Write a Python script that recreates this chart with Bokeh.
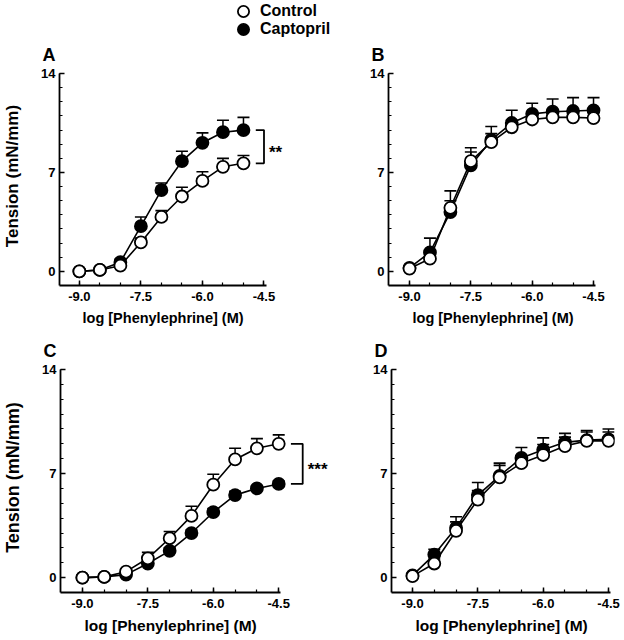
from bokeh.plotting import figure
from bokeh.layouts import column, row
from bokeh.models import FixedTicker, Label, Legend, LegendItem, Range1d, Title
from bokeh.embed import file_html
from bokeh.resources import INLINE

FONT = "Liberation Sans"

# ---------------- data ----------------
x_A = [-9.0, -8.5, -8.0, -7.5, -7.0, -6.5, -6.0, -5.5, -5.0]
x_full = [-9.0, -8.5, -8.0, -7.5, -7.0, -6.5, -6.0, -5.5, -5.0, -4.5]

ctrl_A = [0.0, 0.1, 0.4, 2.05, 3.85, 5.3, 6.4, 7.4, 7.65]
ctrl_A_err = [0.1, 0.1, 0.15, 0.3, 0.45, 0.65, 0.65, 0.6, 0.55]
capto_A = [0.0, 0.1, 0.65, 3.2, 5.75, 7.8, 9.1, 9.85, 10.0]
capto_A_err = [0.1, 0.1, 0.2, 0.65, 0.5, 0.7, 0.7, 0.85, 0.9]

ctrl_B = [0.2, 0.9, 4.5, 7.8, 9.15, 10.2, 10.75, 10.9, 10.9, 10.85]
ctrl_B_err = [0.1, 0.4, 1.2, 0.95, 0.6, 0.5, 0.4, 0.4, 0.4, 0.4]
capto_B = [0.25, 1.35, 4.2, 7.5, 9.3, 10.5, 11.15, 11.3, 11.35, 11.4]
capto_B_err = [0.1, 1.0, 0.8, 0.95, 0.95, 0.9, 0.75, 0.9, 0.95, 0.9]

ctrl_C = [0.0, 0.05, 0.4, 1.3, 2.65, 4.15, 6.25, 7.95, 8.7, 9.0]
ctrl_C_err = [0.1, 0.1, 0.15, 0.4, 0.45, 0.65, 0.7, 0.75, 0.65, 0.6]
capto_C = [0.0, 0.05, 0.2, 0.95, 1.8, 3.0, 4.4, 5.55, 6.0, 6.3]
capto_C_err = [0.1, 0.1, 0.1, 0.15, 0.2, 0.2, 0.25, 0.25, 0.2, 0.2]

ctrl_D = [0.1, 0.95, 3.15, 5.25, 6.75, 7.7, 8.25, 8.85, 9.2, 9.2]
ctrl_D_err = [0.1, 0.3, 0.6, 0.6, 0.8, 0.5, 0.7, 0.6, 0.6, 0.6]
capto_D = [0.15, 1.55, 3.35, 5.55, 6.85, 8.05, 8.6, 9.1, 9.25, 9.3]
capto_D_err = [0.1, 0.35, 0.75, 0.85, 0.85, 0.7, 0.8, 0.6, 0.65, 0.7]

x_ticks = [-9.0, -7.5, -6.0, -4.5]
x_tick_labels = ["-9.0", "-7.5", "-6.0", "-4.5"]
x_minor = [-9.0, -8.5, -8.0, -7.5, -7.0, -6.5, -6.0, -5.5, -5.0, -4.5]
y_ticks = [0, 7, 14]
y_tick_labels = ["0", "7", "14"]
y_minor = list(range(0, 15))

series_names = ["Control", "Captopril"]
x_title = "log [Phenylephrine] (M)"
y_title = "Tension (mN/mm)"

CTRL_STYLE = dict(marker="circle", size=12, fill_color="white", line_color="black", line_width=1.8)
CAP_STYLE = dict(marker="circle", size=12, fill_color="black", line_color="black", line_width=1.8)
X_AXIS_END = -4.45


def make_panel(letter, xs, ctrl, ctrl_err, cap, cap_err, width, height,
               mb_left, mb_right, mb_top, mb_bottom, x_start, x_end,
               y_end, y_label, xlab_size, ylab_size, xlab_offset, bracket=None):
    p = figure(width=width, height=height, output_backend="svg",
               toolbar_location=None, title=None,
               x_range=Range1d(x_start, x_end), y_range=Range1d(-1.0, y_end),
               min_border_left=mb_left, min_border_right=mb_right,
               min_border_top=mb_top, min_border_bottom=mb_bottom)
    p.outline_line_color = None
    p.grid.visible = False
    p.background_fill_color = "white"
    p.border_fill_color = "white"

    # captopril first (error bars, line, markers)
    cap_top = [v + e for v, e in zip(cap, cap_err)]
    p.segment(x0=xs, y0=cap, x1=xs, y1=cap_top, line_color="black", line_width=1.5)
    p.scatter(x=xs, y=cap_top, marker="dash", size=12, line_color="black", line_width=1.6)
    p.line(x=xs, y=cap, line_color="black", line_width=1.6)
    p.scatter(x=xs, y=cap, **CAP_STYLE)

    ctrl_top = [v + e for v, e in zip(ctrl, ctrl_err)]
    p.segment(x0=xs, y0=ctrl, x1=xs, y1=ctrl_top, line_color="black", line_width=1.5)
    p.scatter(x=xs, y=ctrl_top, marker="dash", size=12, line_color="black", line_width=1.6)
    p.line(x=xs, y=ctrl, line_color="black", line_width=1.6)
    p.scatter(x=xs, y=ctrl, **CTRL_STYLE)

    # axes
    for ax in (p.xaxis[0], p.yaxis[0]):
        ax.axis_line_width = 1.8
        ax.axis_line_color = "black"
        ax.major_tick_line_width = 1.5
        ax.minor_tick_line_width = 1.2
        ax.major_tick_in = 5
        ax.major_tick_out = 0
        ax.minor_tick_in = 3
        ax.minor_tick_out = 0
        ax.major_label_text_font = FONT
        ax.major_label_text_font_style = "bold"
        ax.major_label_text_font_size = "13px"
        ax.major_label_text_color = "black"
        ax.axis_label_text_font = FONT
        ax.axis_label_text_font_style = "bold"
        ax.axis_label_text_color = "black"

    xa = p.xaxis[0]
    xa.ticker = FixedTicker(ticks=x_ticks, minor_ticks=x_minor)
    xa.major_label_overrides = {t: s for t, s in zip(x_ticks, x_tick_labels)}
    xa.bounds = (x_start, X_AXIS_END)
    xa.major_label_standoff = 6

    ya = p.yaxis[0]
    ya.ticker = FixedTicker(ticks=y_ticks, minor_ticks=y_minor)
    ya.major_label_overrides = {t: s for t, s in zip(y_ticks, y_tick_labels)}
    ya.bounds = (-1.0, 14.0)
    ya.major_label_standoff = 4
    if y_label:
        ya.axis_label = y_title
        ya.axis_label_text_font_size = ylab_size
        ya.axis_label_standoff = 16

    # x-axis title, placed under the drawn axis line (not the wider frame)
    p.add_layout(Title(text=x_title, align="left", offset=xlab_offset, standoff=9,
                       text_font=FONT, text_font_style="bold",
                       text_font_size=xlab_size, text_color="black"), "below")

    # panel letter
    p.add_layout(Title(text=letter, align="left", offset=-17, standoff=4,
                       text_font=FONT, text_font_style="bold",
                       text_font_size="18px", text_color="black"), "above")

    # significance bracket
    if bracket is not None:
        xb, tick, stars = bracket
        y1 = cap[-1]
        y2 = ctrl[-1]
        p.line(x=[xb - tick, xb, xb, xb - tick], y=[y1, y1, y2, y2],
               line_color="black", line_width=1.8)
        p.add_layout(Label(x=xb, y=(y1 + y2) / 2, text=stars, x_offset=5,
                           y_offset=-6, text_font=FONT, text_font_style="bold",
                           text_font_size="17px", text_baseline="middle",
                           text_align="left", text_color="black"))
    return p


# ---------------- legend strip ----------------
pL = figure(width=624, height=40, output_backend="svg", toolbar_location=None,
            x_range=Range1d(0, 1), y_range=Range1d(0, 1),
            x_axis_type=None, y_axis_type=None, min_border=0, title=None)
pL.outline_line_color = None
pL.grid.visible = False
# key renderers: their points fall outside this strip's ranges, only the legend keys show
rl_ctrl = pL.scatter(x=x_A[:1], y=ctrl_A[:1], **CTRL_STYLE)
rl_cap = pL.scatter(x=x_A[:1], y=capto_A[:1], **CAP_STYLE)
for name, rend, loc in ((series_names[0], rl_ctrl, (229, 15)),
                        (series_names[1], rl_cap, (229, -3))):
    pL.add_layout(Legend(items=[LegendItem(label=name, renderers=[rend])],
                         location=loc, orientation="vertical",
                         glyph_width=28, glyph_height=28, label_height=28,
                         spacing=0, padding=0, margin=0, label_standoff=3,
                         border_line_color=None, background_fill_alpha=0,
                         label_text_font=FONT, label_text_font_style="bold",
                         label_text_font_size="16px", label_text_color="black"))

pA = make_panel("A", x_A, ctrl_A, ctrl_A_err, capto_A, capto_A_err,
                340, 293, 57, 10, 26, 48, -9.484, -2.879, 14.5,
                True, "14.5px", "17px", 23, bracket=(-4.5, 0.2, "**"))
pB = make_panel("B", x_full, ctrl_B, ctrl_B_err, capto_B, capto_B_err,
                284, 293, 48, 10, 26, 48, -9.5136, -3.987, 14.5,
                False, "14.5px", "17px", 24)
pC = make_panel("C", x_full, ctrl_C, ctrl_C_err, capto_C, capto_C_err,
                340, 307, 59, 5, 29, 48, -9.5025, -3.198, 14.47,
                True, "15.5px", "18px", 24, bracket=(-3.95, 0.27, "***"))
pD = make_panel("D", x_full, ctrl_D, ctrl_D_err, capto_D, capto_D_err,
                284, 307, 51, 10, 29, 48, -9.482, -4.363, 14.47,
                False, "15.5px", "18px", 24)

layout = column(pL, row(pA, pB), row(pC, pD))
open("out.html", "w").write(file_html(layout, INLINE))
